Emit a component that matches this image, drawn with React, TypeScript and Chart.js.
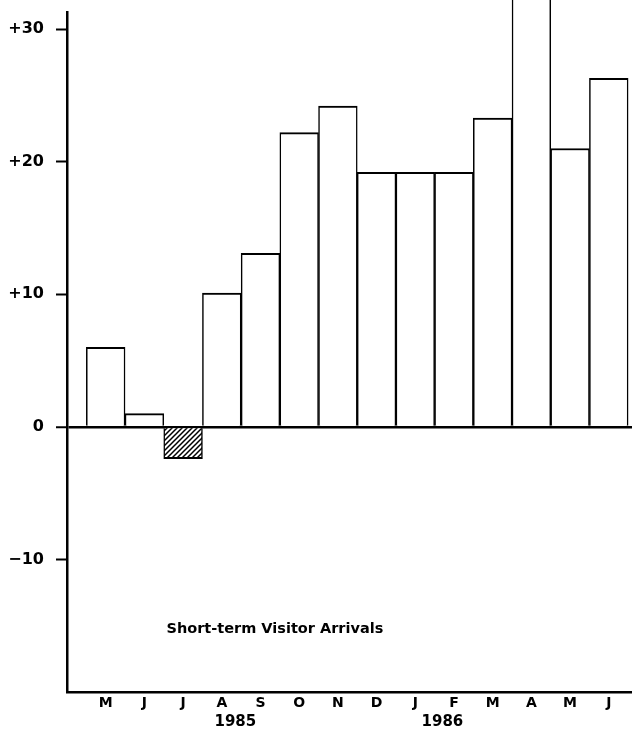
import React, { useEffect, useRef } from 'react';
import { Chart, registerables } from 'chart.js';

Chart.register(...registerables);

// ---- data ----
const months = ['M', 'J', 'J', 'A', 'S', 'O', 'N', 'D', 'J', 'F', 'M', 'A', 'M', 'J'];
const changes = [6.0, 1.0, -2.4, 10.1, 13.1, 22.2, 24.2, 19.2, 19.2, 19.2, 23.3, 34.0, 21.0, 26.3];
const yearLabels = ['1985', '1986'];
const yearTickAt = [4.35, 9.7];
const yTickValues = [-10, 0, 10, 20, 30];
const caption = 'Short-term Visitor Arrivals';

const FONT = '"DejaVu Sans", "Liberation Sans", sans-serif';

function makeHatch(ctx: CanvasRenderingContext2D): CanvasPattern | string {
  const n = 5;
  const p = document.createElement('canvas');
  p.width = n;
  p.height = n;
  const c = p.getContext('2d');
  if (!c) return '#fff';
  c.fillStyle = '#fff';
  c.fillRect(0, 0, n, n);
  c.strokeStyle = '#000';
  c.lineWidth = 1.5;
  c.beginPath();
  c.moveTo(0, n);
  c.lineTo(n, 0);
  c.moveTo(-1, 1);
  c.lineTo(1, -1);
  c.moveTo(n - 1, n + 1);
  c.lineTo(n + 1, n - 1);
  c.stroke();
  return ctx.createPattern(p, 'repeat') || '#fff';
}

const captionPlugin = {
  id: 'captionText',
  afterDatasetsDraw(chart: any) {
    const { ctx, scales } = chart;
    const x = scales.x;
    const y = scales.y;
    ctx.save();
    ctx.font = `bold 14.5px ${FONT}`;
    ctx.fillStyle = '#000';
    ctx.textAlign = 'left';
    ctx.textBaseline = 'middle';
    ctx.fillText(caption, x.getPixelForValue(2.57), y.getPixelForValue(-15.25));
    ctx.restore();
  },
};

export default function App() {
  const canvasRef = useRef<HTMLCanvasElement | null>(null);

  useEffect(() => {
    const canvas = canvasRef.current;
    if (!canvas) return;
    const ctx = canvas.getContext('2d');
    if (!ctx) return;
    const hatch = makeHatch(ctx);

    const chart = new Chart(ctx, {
      type: 'bar',
      data: {
        datasets: [
          {
            data: months.map((_, i) => ({ x: i + 1, y: changes[i] })),
            backgroundColor: changes.map((v) => (v < 0 ? hatch : '#ffffff')) as any,
            borderColor: '#000',
            borderWidth: { top: 2, bottom: 2, left: 1.5, right: 1.5 } as any,
            barPercentage: 1,
            categoryPercentage: 1,
            clip: false as any,
          },
        ],
      },
      options: {
        animation: false,
        responsive: true,
        maintainAspectRatio: false,
        layout: { padding: { top: 12, left: 0, right: 0, bottom: 0 } },
        plugins: {
          legend: { display: false },
          tooltip: { enabled: false },
          title: { display: false },
        },
        scales: {
          x: {
            type: 'linear',
            position: 'bottom',
            min: 0,
            max: 14.6,
            offset: false,
            grid: { display: false, drawTicks: false, offset: false },
            border: { display: true, color: '#000', width: 2.5 },
            afterBuildTicks: (scale: any) => {
              scale.ticks = months.map((_, i) => ({ value: i + 1 }));
            },
            afterFit: (scale: any) => {
              scale.height = 18;
              scale.paddingLeft = 0;
              scale.paddingRight = 0;
            },
            ticks: {
              autoSkip: false,
              maxRotation: 0,
              minRotation: 0,
              padding: 3,
              color: '#000',
              font: { family: FONT, size: 14, weight: 'bold' },
              callback: (_v: any, i: number) => months[i],
            },
          },
          x2: {
            type: 'linear',
            position: 'bottom',
            min: 0,
            max: 14.6,
            offset: false,
            grid: { display: false, drawTicks: false },
            border: { display: false },
            afterBuildTicks: (scale: any) => {
              scale.ticks = yearTickAt.map((v) => ({ value: v }));
            },
            afterFit: (scale: any) => {
              scale.height = 21;
              scale.paddingLeft = 0;
              scale.paddingRight = 0;
            },
            ticks: {
              autoSkip: false,
              maxRotation: 0,
              minRotation: 0,
              padding: 3,
              color: '#000',
              font: { family: FONT, size: 15, weight: 'bold' },
              callback: (_v: any, i: number) => yearLabels[i],
            },
          },
          y: {
            type: 'linear',
            min: -20,
            max: 31.3,
            z: 1,
            afterBuildTicks: (scale: any) => {
              scale.ticks = yTickValues.map((v) => ({ value: v }));
            },
            afterFit: (scale: any) => {
              scale.width = 67;
              scale.paddingTop = 0;
              scale.paddingBottom = 0;
            },
            grid: {
              drawOnChartArea: true,
              drawTicks: true,
              tickLength: 11,
              tickWidth: 2,
              tickColor: '#000',
              color: (c: any) => (c.tick && c.tick.value === 0 ? '#000' : 'rgba(0,0,0,0)'),
              lineWidth: (c: any) => (c.tick && c.tick.value === 0 ? 2.5 : 1),
            },
            border: { display: true, color: '#000', width: 2.5 },
            ticks: {
              padding: 12,
              color: '#000',
              font: { family: FONT, size: 16, weight: 'bold' },
              callback: (v: any) => {
                const n = Number(v);
                if (n > 0) return '+' + n;
                if (n < 0) return '\u2212' + Math.abs(n);
                return '0';
              },
            },
          },
        },
      },
      plugins: [captionPlugin],
    });

    return () => {
      chart.destroy();
    };
  }, []);

  return (
    <div style={{ position: 'fixed', left: 0, top: 0, width: 632, height: 731, background: '#fff' }}>
      <canvas ref={canvasRef} />
    </div>
  );
}
